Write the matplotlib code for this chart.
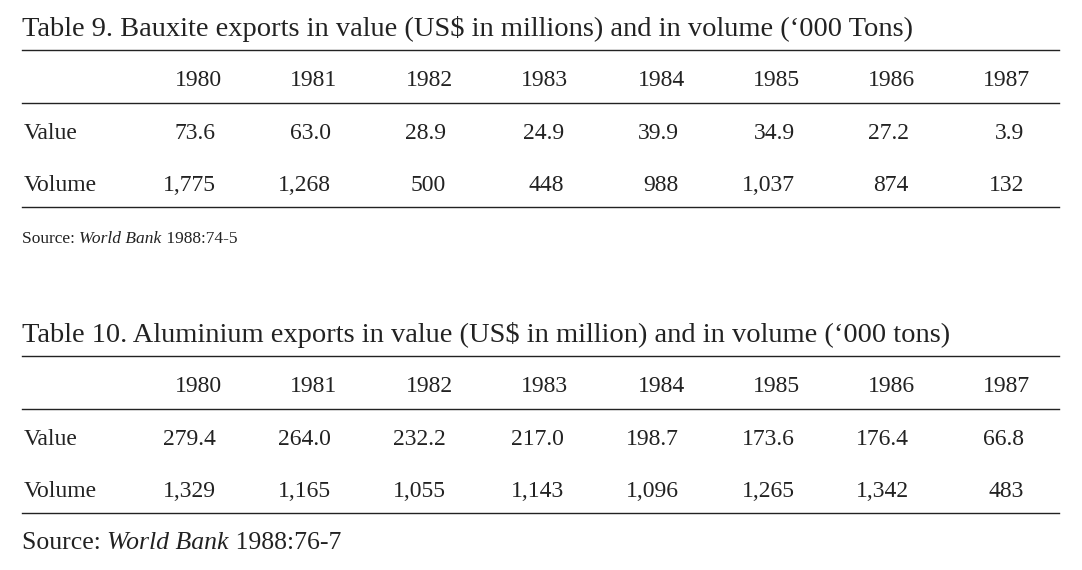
import matplotlib.pyplot as plt

years = ["1980", "1981", "1982", "1983", "1984", "1985", "1986", "1987"]
bauxite_value = ["73.6", "63.0", "28.9", "24.9", "39.9", "34.9", "27.2", "3.9"]
bauxite_volume = ["1,775", "1,268", "500", "448", "988", "1,037", "874", "132"]
alu_value = ["279.4", "264.0", "232.2", "217.0", "198.7", "173.6", "176.4", "66.8"]
alu_volume = ["1,329", "1,165", "1,055", "1,143", "1,096", "1,265", "1,342", "483"]

W, H = 1082, 570
fig = plt.figure(figsize=(W / 100, H / 100), dpi=100)
ax = fig.add_axes([0, 0, 1, 1])
ax.set_xlim(0, W)
ax.set_ylim(H, 0)
ax.axis("off")

font = dict(family="Liberation Serif", fontsize=17, color="#222222")
head_x = [222, 337, 453, 568, 685, 800, 915, 1030]
val_x = [216, 331, 446, 564, 679, 795, 909, 1024]


def draw_table(top, title, rows, source, src_size):
    ax.text(22, top + 36, title, va="baseline", **{**font, "fontsize": 20.5})
    for y in (top + 50, top + 103, top + 207):
        ax.plot([22, 1059], [y, y], color="#222222", lw=1)
    for x, yr in zip(head_x, years):
        ax.text(x, top + 86, yr, ha="right", va="baseline", **font)
    for (label, vals), y in zip(rows, (top + 139, top + 191)):
        ax.text(24, y, label, va="baseline", **font)
        for x, v in zip(val_x, vals):
            ax.text(x, y, v, ha="right", va="baseline", **font)
    sf = {**font, "fontsize": src_size}
    t = ax.text(22, top + 243, "Source: ", va="baseline", **sf)
    t2 = ax.annotate(source[0], xycoords=t, xy=(1, 0), va="bottom",
                     fontstyle="italic", **sf)
    ax.annotate(" " + source[1], xycoords=t2, xy=(1, 0), va="bottom", **sf)


draw_table(0, "Table 9. Bauxite exports in value (US$ in millions) and in volume (\u2018000 Tons)",
           [("Value", bauxite_value), ("Volume", bauxite_volume)],
           ("World Bank", "1988:74-5"), 12.5)
draw_table(306, "Table 10. Aluminium exports in value (US$ in million) and in volume (\u2018000 tons)",
           [("Value", alu_value), ("Volume", alu_volume)],
           ("World Bank", "1988:76-7"), 18.5)

fig.savefig("out.png", dpi=100, facecolor="white")
